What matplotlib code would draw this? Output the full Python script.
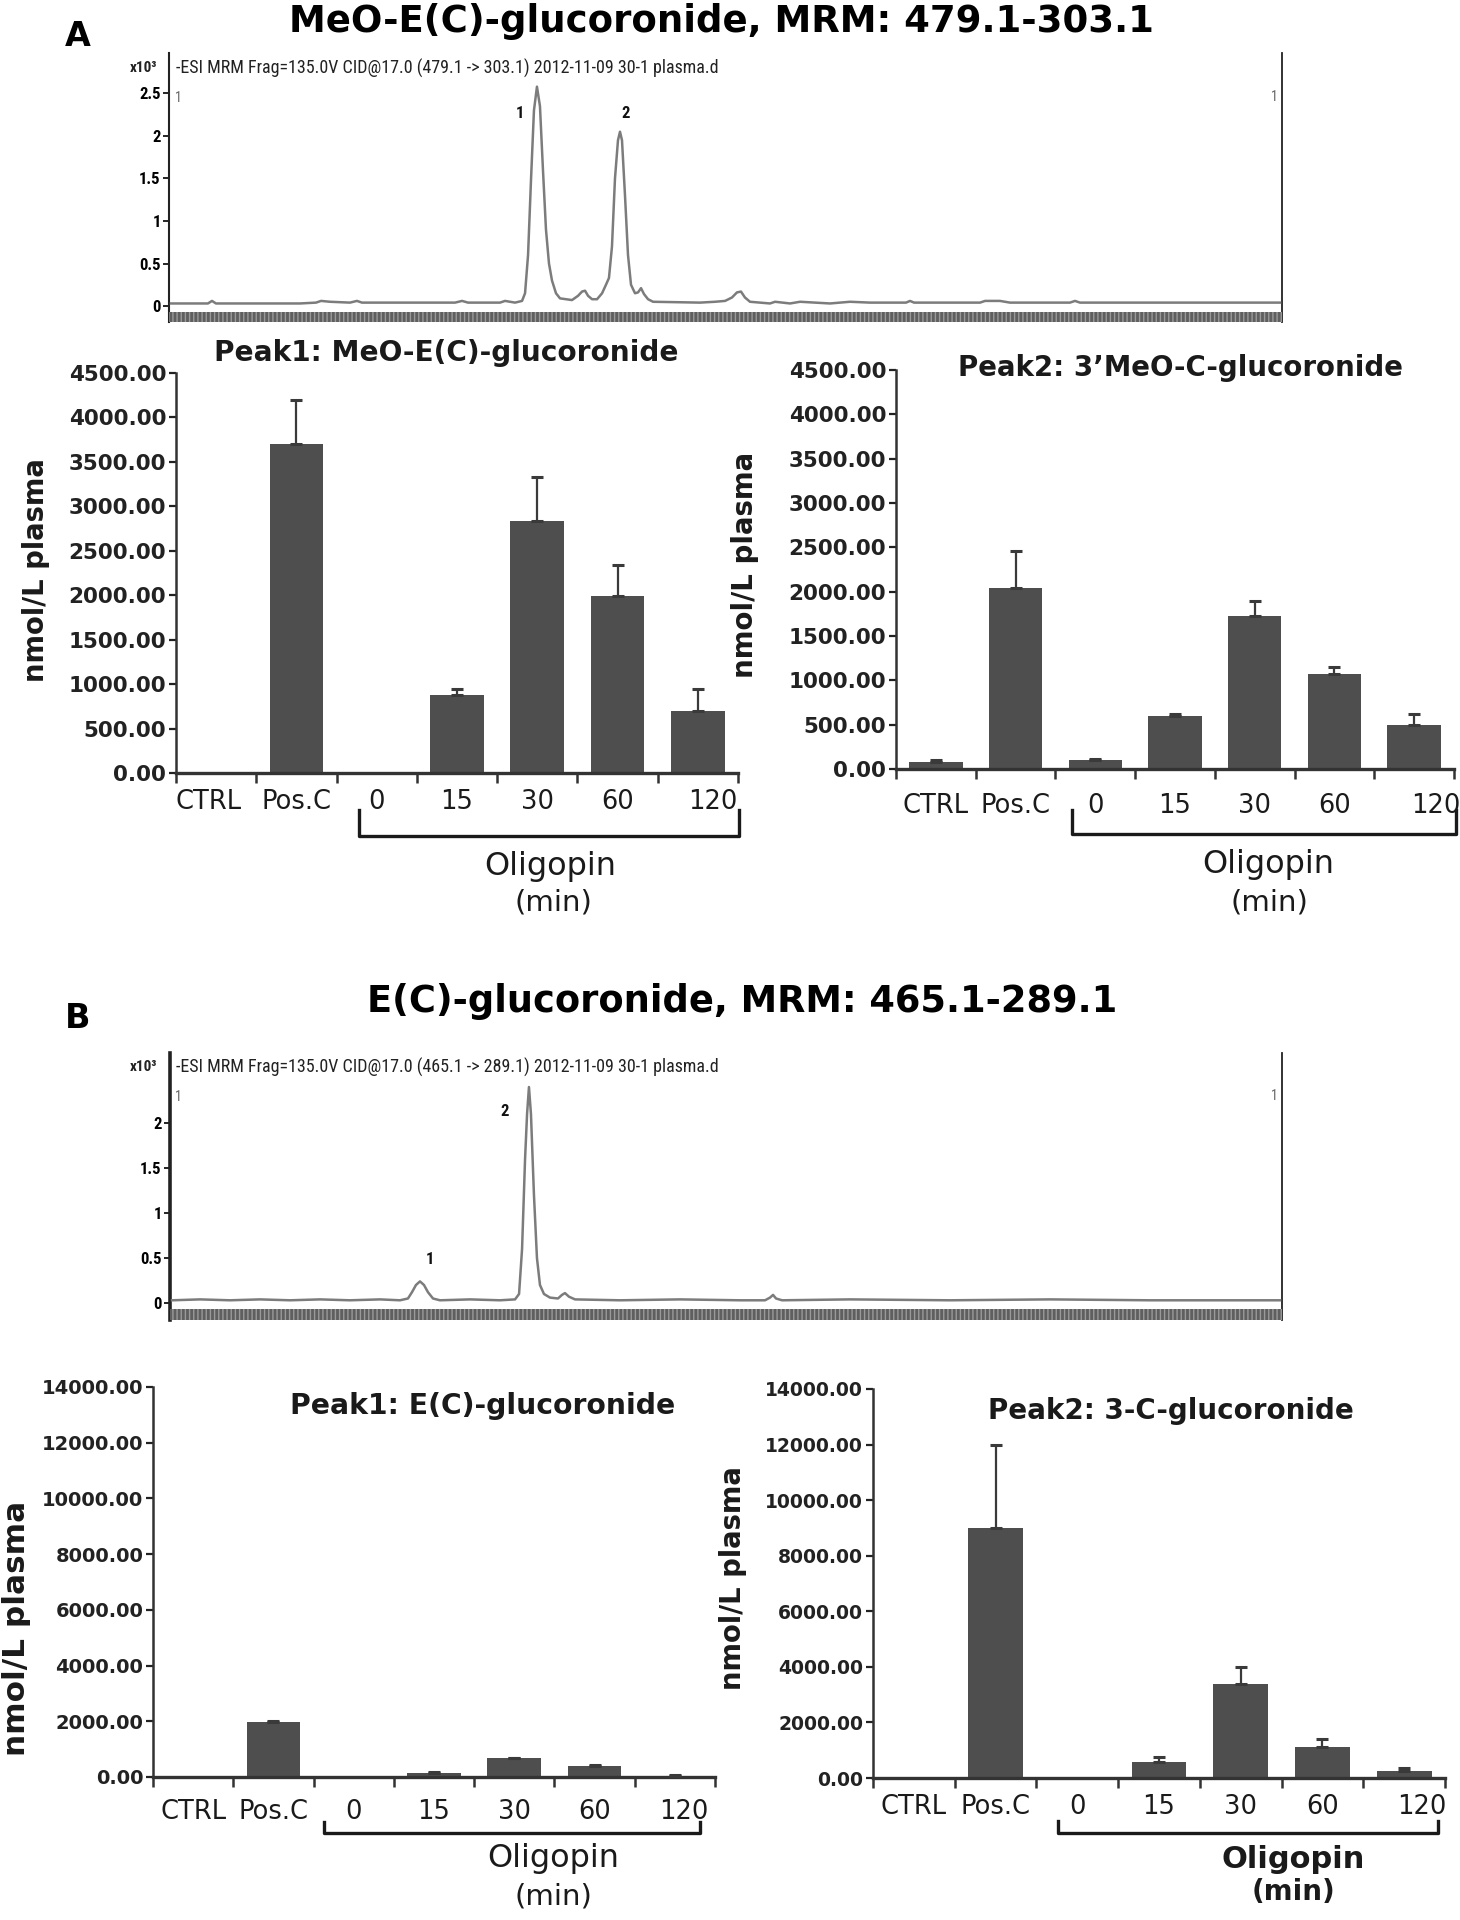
import matplotlib
matplotlib.use('Agg')
import matplotlib.pyplot as plt
import matplotlib.transforms as mtransforms
from matplotlib import font_manager
from matplotlib.patches import Rectangle
from matplotlib.ticker import FormatStrFormatter
import numpy as np

# ---------------- data ----------------
categories = ['CTRL', 'Pos.C', '0', '15', '30', '60', '120']

a1_values = [0, 3700, 0, 880, 2830, 1990, 700]
a1_errors = [0, 500, 0, 70, 500, 350, 250]
a2_values = [80, 2040, 100, 600, 1720, 1070, 500]
a2_errors = [25, 420, 12, 20, 175, 75, 125]
b1_values = [15, 1980, 15, 150, 670, 400, 50]
b1_errors = [0, 25, 0, 20, 30, 30, 10]
b2_values = [0, 9000, 0, 580, 3400, 1120, 260]
b2_errors = [0, 2970, 0, 190, 580, 300, 100]

chromA_time = [0.18, 2.79, 3.50, 3.86, 4.22, 11.77, 13.21, 13.66, 14.47, 16.26, 16.89, 17.34,
               25.70, 26.33, 26.87, 29.74, 30.19, 31.09, 31.72, 31.99, 32.26, 32.53, 32.79,
               33.06, 33.33, 33.60, 33.87, 34.14, 34.41, 34.77, 35.13, 35.67, 36.21, 36.75,
               37.11, 37.38, 37.65, 38.01, 38.46, 38.91, 39.26, 39.53, 39.80, 40.07, 40.34,
               40.52, 40.70, 40.97, 41.24, 41.51, 41.87, 42.14, 42.41, 42.68, 43.04, 43.49,
               47.71, 49.06, 49.96, 50.58, 51.03, 51.39, 51.75, 52.20, 54.00, 54.45, 55.80,
               56.70, 59.39, 61.19, 62.99, 66.22, 66.58, 66.94, 72.87, 73.32, 74.66, 75.56,
               80.95, 81.40, 81.85, 83.38, 99.82]
chromA_int = [0.03, 0.03, 0.03, 0.06, 0.03, 0.03, 0.04, 0.06, 0.05, 0.04, 0.06, 0.04,
              0.04, 0.06, 0.04, 0.04, 0.06, 0.04, 0.06, 0.15, 0.6, 1.5, 2.3,
              2.58, 2.35, 1.6, 0.9, 0.5, 0.3, 0.15, 0.09, 0.08, 0.07, 0.12,
              0.17, 0.18, 0.12, 0.08, 0.08, 0.15, 0.25, 0.33, 0.7, 1.5, 1.95,
              2.05, 1.95, 1.3, 0.6, 0.25, 0.15, 0.16, 0.21, 0.14, 0.08, 0.05,
              0.04, 0.05, 0.06, 0.1, 0.16, 0.17, 0.1, 0.05, 0.03, 0.05, 0.03,
              0.05, 0.03, 0.05, 0.04, 0.04, 0.06, 0.04, 0.04, 0.06, 0.06, 0.04,
              0.04, 0.06, 0.04, 0.04, 0.04]

chromB_time = [0.18, 2.70, 5.40, 8.09, 10.79, 13.49, 16.19, 18.89, 20.68, 21.40, 21.76,
               22.12, 22.48, 22.84, 23.20, 23.65, 24.28, 26.98, 29.68, 31.03, 31.39, 31.66,
               31.93, 32.11, 32.28, 32.46, 32.73, 33.00, 33.27, 33.63, 34.17, 34.89, 35.25,
               35.52, 35.88, 36.42, 40.47, 45.86, 51.26, 53.51, 53.96, 54.23, 54.50, 55.04,
               61.15, 70.15, 79.14, 88.13, 99.82]
chromB_int = [0.03, 0.04, 0.03, 0.04, 0.03, 0.04, 0.03, 0.04, 0.03, 0.05, 0.12,
              0.2, 0.24, 0.2, 0.12, 0.05, 0.03, 0.04, 0.03, 0.04, 0.1, 0.6,
              1.6, 2.1, 2.4, 2.1, 1.2, 0.5, 0.2, 0.1, 0.06, 0.05, 0.09,
              0.11, 0.07, 0.04, 0.03, 0.04, 0.03, 0.03, 0.06, 0.09, 0.05, 0.03,
              0.04, 0.03, 0.04, 0.03, 0.03]

chromA_peak_labels = ['1', '2']
chromA_peak_time = [31.5, 41.0]
chromA_peak_y = [2.27, 2.27]
chromB_peak_labels = ['1', '2']
chromB_peak_time = [23.4, 30.1]
chromB_peak_y = [0.48, 2.13]

chrom_ticksA = [0, 0.5, 1, 1.5, 2, 2.5]
chrom_ticksB = [0, 0.5, 1, 1.5, 2]

titleA = 'MeO-E(C)-glucoronide, MRM: 479.1-303.1'
titleB = 'E(C)-glucoronide, MRM: 465.1-289.1'
headerA = '-ESI MRM Frag=135.0V CID@17.0 (479.1 -> 303.1) 2012-11-09 30-1 plasma.d'
headerB = '-ESI MRM Frag=135.0V CID@17.0 (465.1 -> 289.1) 2012-11-09 30-1 plasma.d'

# ---------------- setup ----------------
W, H = 1460, 1920
DPI = 100
plt.rcParams['font.family'] = ['DejaVu Sans']
names = {f.name for f in font_manager.fontManager.ttflist}
NARROW = next((n for n in ['Liberation Sans Narrow', 'DejaVu Sans Condensed', 'Roboto Condensed']
               if n in names), 'Liberation Sans')

fig = plt.figure(figsize=(W / DPI, H / DPI), dpi=DPI)
fig.patch.set_facecolor('white')
renderer = fig.canvas.get_renderer()


def fx(x):
    return x / W


def fy(y):
    return 1 - y / H


def fit(txt, target, dim='w'):
    bb = txt.get_window_extent(renderer=renderer)
    cur = bb.width if dim == 'w' else bb.height
    txt.set_fontsize(txt.get_fontsize() * target / cur)


def ftext(x, y, s, target=None, dim='w', **kw):
    t = fig.text(fx(x), fy(y), s, ha=kw.pop('ha', 'center'), va=kw.pop('va', 'center'), **kw)
    if target:
        fit(t, target, dim)
    return t


def rect(l, t, r, b):
    return [l / W, 1 - b / H, (r - l) / W, (b - t) / H]


# ---------------- chromatograms ----------------
def chrom(box, t, y, ylo, yhi, yticks, header, hy, pk_t, pk_y, pk_l, band_frac, left_lw):
    ax = fig.add_axes(rect(*box))
    ax.plot(t, y, color='#7c7c7c', lw=1.8, zorder=3)
    ax.set_xlim(0, 100)
    ax.set_ylim(ylo, yhi)
    ax.set_xticks([])
    ax.set_yticks(yticks)
    ax.set_yticklabels([('%g' % v) for v in yticks], fontfamily=NARROW,
                       fontweight='bold', fontsize=12)
    ax.tick_params(axis='y', length=4, width=1.2, pad=2, direction='out')
    ax.spines['top'].set_visible(False)
    ax.spines['bottom'].set_visible(False)
    ax.spines['left'].set_linewidth(left_lw)
    ax.spines['left'].set_color('#222222')
    ax.spines['right'].set_linewidth(1.3)
    ax.spines['right'].set_color('#222222')
    ax.add_patch(Rectangle((0, 0), 1, band_frac, transform=ax.transAxes,
                           facecolor='#5f5f5f', edgecolor='#9a9a9a', hatch='||||',
                           lw=0, clip_on=False, zorder=4))
    for tt, yy, ll in zip(pk_t, pk_y, pk_l):
        ax.text(tt, yy, ll, ha='center', va='center', fontsize=12, fontweight='bold',
                fontfamily=NARROW, color='#111111')
    ftext(176, hy, header, target=541, ha='left', fontfamily=NARROW, color='#222222')
    ftext(143, hy, 'x10³', fontsize=11, fontweight='bold', fontfamily=NARROW, color='#222222')
    ftext(178, hy + 30, '1', fontsize=10, fontfamily=NARROW, color='#666666')
    ftext(1274, hy + 29, '1', fontsize=10, fontfamily=NARROW, color='#666666')
    return ax


chrom((169, 53, 1282, 322), chromA_time, chromA_int, -0.188, 2.976, chrom_ticksA,
      headerA, 68, chromA_peak_time, chromA_peak_y, chromA_peak_labels, 10 / 269, 1.5)
chrom((170, 1053, 1282, 1320), chromB_time, chromB_int, -0.189, 2.778, chrom_ticksB,
      headerB, 1067, chromB_peak_time, chromB_peak_y, chromB_peak_labels, 11 / 267, 2.6)

# ---------------- titles / letters ----------------
ftext(78, 37, 'A', fontsize=24, fontweight='bold')
ftext(78, 1018, 'B', fontsize=24, fontweight='bold')
ftext(721, 21, titleA, target=865, fontweight='bold')
ftext(742, 1002, titleB, target=750, fontweight='bold')


# ---------------- bar panels ----------------
def bars(box, values, errors, ymax, ystep, ytick_fs, pad, brk, title, tpos, twidth,
         ylab_pos, ylab_len, olig_pos, min_pos, olig_bold, offsets):
    ax = fig.add_axes(rect(*box))
    x = np.arange(len(categories))
    vals = np.array(values, dtype=float)
    errs = np.array(errors, dtype=float)
    ax.bar(x, vals, width=0.67, color='#4e4e4e', zorder=2)
    m = errs > 0
    ax.errorbar(x[m], vals[m], yerr=[np.zeros(m.sum()), errs[m]], fmt='none',
                ecolor='#3a3a3a', elinewidth=1.6, capsize=4.5, capthick=2.2, zorder=3)
    ax.set_xlim(-0.5, len(categories) - 0.5)
    ax.set_ylim(0, ymax)
    ax.set_yticks(np.arange(0, ymax + 1, ystep))
    ax.yaxis.set_major_formatter(FormatStrFormatter('%.2f'))
    ax.tick_params(axis='y', length=5, width=1.6, pad=2, direction='out',
                   labelsize=ytick_fs, colors='#222222')
    plt.setp(ax.get_yticklabels(), fontweight='bold')
    ax.set_xticks(x)
    ax.set_xticklabels(categories, fontsize=18.5, color='#1a1a1a')
    ax.set_xticks(np.arange(-0.5, len(categories), 1), minor=True)
    ax.tick_params(axis='x', which='major', length=0, pad=pad)
    ax.tick_params(axis='x', which='minor', length=7, width=1.8, direction='out',
                   color='#333333')
    for s in ('top', 'right'):
        ax.spines[s].set_visible(False)
    ax.spines['left'].set_linewidth(1.8)
    ax.spines['left'].set_color('#333333')
    ax.spines['bottom'].set_linewidth(2.4)
    ax.spines['bottom'].set_color('#333333')
    for lab in ax.get_xticklabels():
        dx = offsets.get(lab.get_text(), 0)
        if dx:
            lab.set_transform(lab.get_transform() +
                              mtransforms.ScaledTranslation(dx / DPI, 0, fig.dpi_scale_trans))
    # bracket under the Oligopin time points
    tr = mtransforms.blended_transform_factory(ax.transData, ax.transAxes)
    x0, x1, yb, yt = brk
    ax.plot([x0, x0, x1, x1], [yt, yb, yb, yt], transform=tr, color='#1a1a1a',
            lw=2.4, clip_on=False, solid_joinstyle='round')
    ftext(tpos[0], tpos[1], title, target=twidth, fontweight='bold', color='#1a1a1a')
    ftext(ylab_pos[0], ylab_pos[1], 'nmol/L plasma', target=ylab_len, dim='h',
          rotation=90, fontweight='bold', color='#1a1a1a')
    w = 'bold' if olig_bold else 'normal'
    ftext(olig_pos[0], olig_pos[1], 'Oligopin', fontsize=22 if olig_bold else 23,
          fontweight=w, color='#1a1a1a')
    ftext(min_pos[0], min_pos[1], '(min)', fontsize=20 if olig_bold else 21,
          fontweight=w, color='#1a1a1a')
    return ax


bars((176, 373, 738, 773), a1_values, a1_errors, 4500, 500, 15.5, 11.5,
     (1.78, 6.51, -0.1575, -0.0925), 'Peak1: MeO-E(C)-glucoronide', (446, 353), 466,
     (36, 570), 225, (550, 867), (553, 903), False, {'120': 15, 'CTRL': -8})
bars((896, 370, 1454, 769), a2_values, a2_errors, 4500, 500, 15.5, 17,
     (1.71, 6.53, -0.163, -0.103), 'Peak2: 3’MeO-C-glucoronide', (1181, 368), 445,
     (745, 565), 226, (1268, 864), (1269, 903), False, {'120': 22})
bars((153, 1387, 715, 1777), b1_values, b1_errors, 14000, 2000, 14, 16,
     (1.63, 6.31, -0.1436, -0.115), 'Peak1: E(C)-glucoronide', (483, 1406), 385,
     (17, 1628), 255, (553, 1858), (553, 1896), False, {'120': 9})
bars((873, 1389, 1445, 1778), b2_values, b2_errors, 14000, 2000, 13.5, 11.5,
     (1.76, 6.42, -0.141, -0.11), 'Peak2: 3-C-glucoronide', (1171, 1411), 366,
     (733, 1578), 225, (1293, 1860), (1293, 1892), True, {'120': 18})

fig.savefig('out.png', dpi=DPI, facecolor='white')
